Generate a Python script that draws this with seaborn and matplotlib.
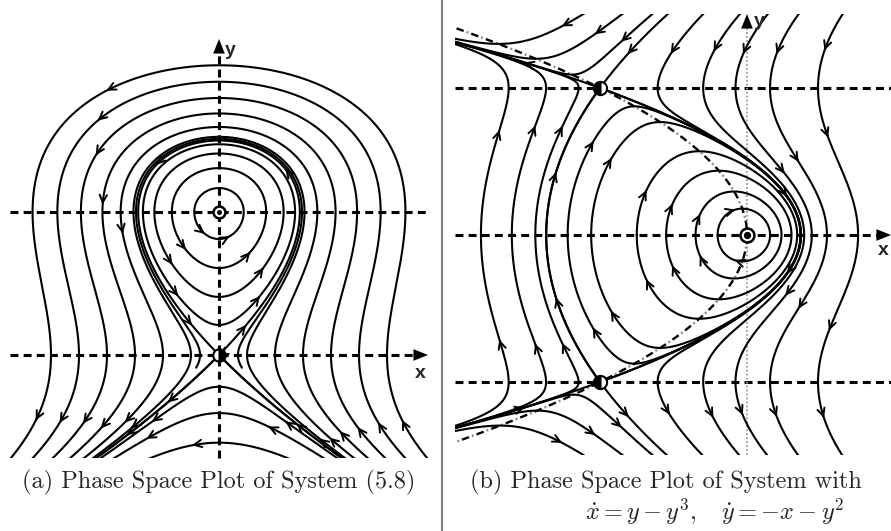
import numpy as np
import pandas as pd
import matplotlib
matplotlib.use("Agg")
import matplotlib.pyplot as plt
from matplotlib.lines import Line2D
import seaborn as sns

sns.set_theme(style="white")
plt.rcParams["mathtext.fontset"] = "cm"
plt.rcParams["font.family"] = ["DejaVu Sans"]

# ------------------------------------------------------------------
# Systems
#   (a)  x' = y - y^2 ,  y' = x
#   (b)  x' = y - y^3 ,  y' = -x - y^2
# ------------------------------------------------------------------
def field_a(x, y):
    return y - y * y, x


def field_b(x, y):
    return y - y ** 3, -x - y * y


# ---------------- panel (a) orbits ----------------
# open orbits, identified by where they cross the x axis
a_outer_x0 = [0.2, 0.4, 0.6, 0.8, 1.0, 1.2]
a_outer_arrows = [[0.05, 0.93], [0.05, 0.69, 0.925], [0.055, 0.68, 0.94],
                  [0.055, 0.65, 0.94], [0.055, 0.63, 0.945], [0.052, 0.61, 0.948]]
# periodic orbits around the centre, crossing x = 0 below it
a_inner_y0 = [0.811, 0.608, 0.406, 0.21]
a_inner_arrows = [[0.07, 0.9], [0.12, 0.87], [0.13, 0.86], [0.1, 0.9]]
# arcs underneath the saddle, crossing x = 0
a_lower_y0 = [-0.222, -0.406, -0.613]
a_lower_arrows = [[0.25, 0.75], [0.3, 0.8], [0.65]]
# homoclinic loop and a neighbour just outside it (top crossing of x = 0)
a_loop_y0 = [1.5, 1.512]
a_loop_time = [14.0, 5.0]
a_loop_arrows = [[0.07, 0.37, 0.62, 0.93], []]
# lower separatrices of the saddle: points (x, y) on them
a_sep_pts = [(-0.3286, -0.3), (0.3286, -0.3)]
a_sep_arrows = [[0.2, 0.7], [0.5, 0.85]]

a_centre = (0.0, 1.0)
a_saddle = (0.0, 0.0)

# ---------------- panel (b) orbits ----------------
# orbits crossing the x axis (symmetric under y -> -y)
b_axis_x0 = [-1.81, -1.60, -1.44, -1.22, -1.06, -0.75, -0.55, -0.35, -0.20]
b_axis_arrows = [[0.27, 0.73], [0.29, 0.71], [0.31, 0.69], [0.13, 0.87],
                 [0.12, 0.88], [0.09, 0.91], [0.08, 0.92], [0.08, 0.92], [0.2, 0.8]]
# orbits entering through the top edge
b_top_x0 = [-1.116, -0.85, -0.646, -0.30, -0.05, 0.14, 0.35, 0.65]
b_top_arrows = [[0.25], [0.23], [0.22], [0.1, 0.9], [0.1, 0.9],
                [0.11, 0.37, 0.63, 0.89], [0.11, 0.34, 0.66, 0.89], [0.105, 0.29, 0.71, 0.895]]
# orbits leaving through the bottom edge (mirror images)
b_bot_x0 = [-1.116, -0.85, -0.646]
b_bot_arrows = [[0.75], [0.77], [0.78]]

b_centre = (0.0, 0.0)
b_saddles = [(-1.0, 1.0), (-1.0, -1.0)]
# arrow positions on the saddle branches: (saddle, unstable, side) -> fractions
b_sep_arrows = {(0, True, 1): [0.42, 0.58], (0, True, -1): [0.5],
                (0, False, 1): [0.6], (0, False, -1): [0.3, 0.7],
                (1, True, 1): [0.4], (1, True, -1): [],
                (1, False, 1): [], (1, False, -1): [0.5]}

# ------------------------------------------------------------------
# layout (pixels of the 891 x 531 canvas)
W, H = 891, 531
A_PX = dict(left=0, right=440, top=0, bottom=458, ox=219, oy=355, sx=140, sy=143)
B_PX = dict(left=455, right=891, top=14, bottom=455, ox=747, oy=235, sx=147, sy=147)


def limits(p):
    xl = ((p["left"] - p["ox"]) / p["sx"], (p["right"] - p["ox"]) / p["sx"])
    yl = ((p["oy"] - p["bottom"]) / p["sy"], (p["oy"] - p["top"]) / p["sy"])
    return xl, yl


def rect(p):
    return [p["left"] / W, (H - p["bottom"]) / H,
            (p["right"] - p["left"]) / W, (p["bottom"] - p["top"]) / H]


# ------------------------------------------------------------------
# integration
def integrate(f, x, y, dt, tmax, box, watch=None):
    xs, ys = [x], [y]
    x0b, x1b, y0b, y1b = box
    flips = 0
    sign = None
    for _ in range(int(tmax / abs(dt))):
        k1x, k1y = f(x, y)
        k2x, k2y = f(x + 0.5 * dt * k1x, y + 0.5 * dt * k1y)
        k3x, k3y = f(x + 0.5 * dt * k2x, y + 0.5 * dt * k2y)
        k4x, k4y = f(x + dt * k3x, y + dt * k3y)
        x += dt * (k1x + 2 * k2x + 2 * k3x + k4x) / 6.0
        y += dt * (k1y + 2 * k2y + 2 * k3y + k4y) / 6.0
        xs.append(x)
        ys.append(y)
        if not (x0b <= x <= x1b and y0b <= y <= y1b):
            break
        if watch is not None:
            v = x if watch == 0 else y
            s = v > 0
            if sign is None:
                sign = s
            elif s != sign:
                sign = s
                flips += 1
                if flips == 2:
                    xs.append(xs[0])
                    ys.append(ys[0])
                    return np.array(xs), np.array(ys), True
    return np.array(xs), np.array(ys), False


def orbit(f, x, y, box, tf=30.0, tb=30.0, watch=None, dt=0.004):
    fx, fy, closed = integrate(f, x, y, dt, tf, box, watch)
    if closed or tb <= 0:
        pts = np.column_stack([fx, fy])
    else:
        bx, by, _ = integrate(f, x, y, -dt, tb, box)
        pts = np.column_stack([np.r_[bx[::-1], fx[1:]], np.r_[by[::-1], fy[1:]]])
    # thin out the dense samples near slow points
    keep = [0]
    last = pts[0]
    for i in range(1, len(pts)):
        if np.hypot(*(pts[i] - last)) > 0.004 or i == len(pts) - 1:
            keep.append(i)
            last = pts[i]
    return pts[keep]


def saddle_branches(f, p, eps=1e-4, h=1e-6):
    x, y = p
    fx1, fy1 = f(x + h, y)
    fx0, fy0 = f(x - h, y)
    gx1, gy1 = f(x, y + h)
    gx0, gy0 = f(x, y - h)
    J = np.array([[(fx1 - fx0) / (2 * h), (gx1 - gx0) / (2 * h)],
                  [(fy1 - fy0) / (2 * h), (gy1 - gy0) / (2 * h)]])
    vals, vecs = np.linalg.eig(J)
    out = []
    for lam, v in zip(vals.real, vecs.T.real):
        v = v if v[0] >= 0 else -v
        for sgn in (1, -1):
            out.append(((x + sgn * eps * v[0], y + sgn * eps * v[1]), lam > 0, sgn))
    return out


# ------------------------------------------------------------------
xa, ya = limits(A_PX)
xb, yb = limits(B_PX)
box_a = (xa[0] - 0.05, xa[1] + 0.05, ya[0] - 0.05, ya[1] + 0.05)
box_b = (xb[0] - 0.05, xb[1] + 0.05, yb[0] - 0.05, yb[1] + 0.05)

paths_a, arrows_a = [], []
for x0, fr in zip(a_outer_x0, a_outer_arrows):
    paths_a.append(orbit(field_a, x0, 0.0, box_a)); arrows_a.append(fr)
for y0, fr in zip(a_inner_y0, a_inner_arrows):
    paths_a.append(orbit(field_a, 0.0, y0, box_a, watch=0)); arrows_a.append(fr)
for y0, fr in zip(a_lower_y0, a_lower_arrows):
    paths_a.append(orbit(field_a, 0.0, y0, box_a)); arrows_a.append(fr)
for y0, t, fr in zip(a_loop_y0, a_loop_time, a_loop_arrows):
    paths_a.append(orbit(field_a, 0.0, y0, box_a, tf=t, tb=t)); arrows_a.append(fr)
for (px, py), fr in zip(a_sep_pts, a_sep_arrows):
    paths_a.append(orbit(field_a, px, py, box_a, tf=14, tb=14)); arrows_a.append(fr)

paths_b, arrows_b = [], []
for x0, fr in zip(b_axis_x0, b_axis_arrows):
    paths_b.append(orbit(field_b, x0, 0.0, box_b, watch=1)); arrows_b.append(fr)
for x0, fr in zip(b_top_x0, b_top_arrows):
    paths_b.append(orbit(field_b, x0, yb[1] - 0.002, box_b)); arrows_b.append(fr)
for x0, fr in zip(b_bot_x0, b_bot_arrows):
    paths_b.append(orbit(field_b, x0, yb[0] + 0.002, box_b)); arrows_b.append(fr)
for k, sp in enumerate(b_saddles):
    for (sx, sy), unstable, side in saddle_branches(field_b, sp):
        if unstable:
            paths_b.append(orbit(field_b, sx, sy, box_b, tf=25, tb=0))
        else:
            paths_b.append(orbit(field_b, sx, sy, box_b, tf=0.004, tb=25))
        arrows_b.append(b_sep_arrows[(k, unstable, side)])


def frame(paths):
    return pd.concat([pd.DataFrame({"x": p[:, 0], "y": p[:, 1], "orbit": i})
                      for i, p in enumerate(paths)], ignore_index=True)


def draw_arrows(ax, f, paths, arrows, col="black"):
    for p, fr in zip(paths, arrows):
        seg = np.hypot(*np.diff(p, axis=0).T)
        cum = np.r_[0, np.cumsum(seg)]
        for q in fr:
            i = int(np.searchsorted(cum, q * cum[-1]))
            i = min(max(i, 1), len(p) - 1)
            x, y = p[i]
            vx, vy = f(x, y)
            n = np.hypot(vx, vy)
            if n == 0:
                continue
            ax.annotate("", xy=(x, y), xytext=(x - 0.02 * vx / n, y - 0.02 * vy / n),
                        arrowprops=dict(arrowstyle="->,head_length=0.45,head_width=0.22",
                                        lw=1.4, color=col, shrinkA=0, shrinkB=0,
                                        mutation_scale=12), zorder=4)


fig = plt.figure(figsize=(W / 100, H / 100), dpi=100)
axA = fig.add_axes(rect(A_PX))
axB = fig.add_axes(rect(B_PX))

LW = 1.5
DASH = dict(color="black", lw=2.2, ls=(0, (2.6, 1.7)), clip_on=False, zorder=1)
HEAD = dict(arrowstyle="-|>,head_length=0.75,head_width=0.3", color="black",
            lw=0, shrinkA=0, shrinkB=0, mutation_scale=14)
LABEL = dict(fontsize=14, fontweight="bold", family=["Liberation Sans", "DejaVu Sans"])

# ---------------- panel (a)
sns.lineplot(data=frame(paths_a), x="x", y="y", units="orbit", estimator=None,
             sort=False, color="black", linewidth=LW, legend=False, ax=axA, zorder=2)
draw_arrows(axA, field_a, paths_a, arrows_a)
axA.set_xlim(*xa)
axA.set_ylim(*ya)
axA.axis("off")
axA.plot([-1.49, 1.49], [1.0, 1.0], **DASH)
axA.plot([-1.49, 1.43], [0.0, 0.0], **DASH)
axA.annotate("", xy=(1.493, 0.0), xytext=(1.42, 0.0), arrowprops=HEAD, annotation_clip=False)
axA.plot([0.0, 0.0], [ya[0], 2.12], **DASH)
axA.annotate("", xy=(0.0, 2.21), xytext=(0.0, 2.14), arrowprops=HEAD, annotation_clip=False)
axA.text(0.045, 2.13, "y", ha="left", va="center", **LABEL)
axA.text(1.44, -0.13, "x", ha="center", va="center", **LABEL)
axA.plot(*a_centre, "o", ms=8.5, mfc="white", mec="black", mew=1.8, zorder=6, clip_on=False)
axA.plot(*a_centre, "o", ms=2.6, color="black", zorder=7, clip_on=False)
axA.plot(*a_saddle, "o", ms=9, mec="black", mew=1.5, fillstyle="right", mfc="black",
         markerfacecoloralt="white", zorder=6, clip_on=False)

# ---------------- panel (b)
sns.lineplot(data=frame(paths_b), x="x", y="y", units="orbit", estimator=None,
             sort=False, color="black", linewidth=LW, legend=False, ax=axB, zorder=2)
draw_arrows(axB, field_b, paths_b, arrows_b)
axB.set_xlim(*xb)
axB.set_ylim(*yb)
axB.axis("off")
# nullcline x = -y^2 of y' = -x - y^2, drawn dash-dot (black dashes, grey dots)
yy = np.linspace(yb[0], yb[1], 400)
axB.plot(-yy ** 2, yy, color="black", lw=1.7, ls=(0, (3.2, 3.4)), zorder=1.5)
axB.plot(-yy ** 2, yy, color="#8a8a8a", lw=1.7, ls=(2.1, (0.8, 5.8)), zorder=1.5)
axB.plot([xb[0], xb[1]], [1.0, 1.0], **DASH)
axB.plot([xb[0], xb[1]], [-1.0, -1.0], **DASH)
axB.plot([xb[0], 0.92], [0.0, 0.0], **DASH)
axB.annotate("", xy=(xb[1], 0.0), xytext=(0.9, 0.0), arrowprops=HEAD, annotation_clip=False)
axB.plot([0.0, 0.0], [yb[0], 1.42], color="#9a9a9a", lw=1.3, ls=(0, (1, 1.2)), zorder=1)
axB.annotate("", xy=(0.0, yb[1]), xytext=(0.0, 1.43), arrowprops=HEAD, annotation_clip=False)
axB.text(0.05, 1.45, "y", ha="left", va="center", **LABEL)
axB.text(0.925, -0.105, "x", ha="center", va="center", clip_on=False, **LABEL)
axB.plot(*b_centre, "o", ms=10, mfc="white", mec="black", mew=1.8, zorder=6)
axB.plot(*b_centre, "o", ms=4.2, color="black", zorder=7)
for sp in b_saddles:
    axB.plot(*sp, "o", ms=9.5, mec="black", mew=1.5, fillstyle="left", mfc="black",
             markerfacecoloralt="white", zorder=6)

# separator and captions
fig.add_artist(Line2D([442 / W, 442 / W], [0, 1], transform=fig.transFigure,
                      color="#7f7f7f", lw=1.5))
CAP = dict(fontsize=17.5, family="cmr10", ha="center", va="center")
fig.text(219 / W, 1 - 482 / H, "(a) Phase Space Plot of System (5.8)", **CAP)
fig.text(666 / W, 1 - 482 / H, "(b) Phase Space Plot of System with", **CAP)
fig.text(715 / W, 1 - 512 / H, r"$\dot{x} = y - y^3,\quad \dot{y} = -x - y^2$",
         fontsize=17.5, ha="center", va="center")

fig.savefig("out.png", dpi=100)
